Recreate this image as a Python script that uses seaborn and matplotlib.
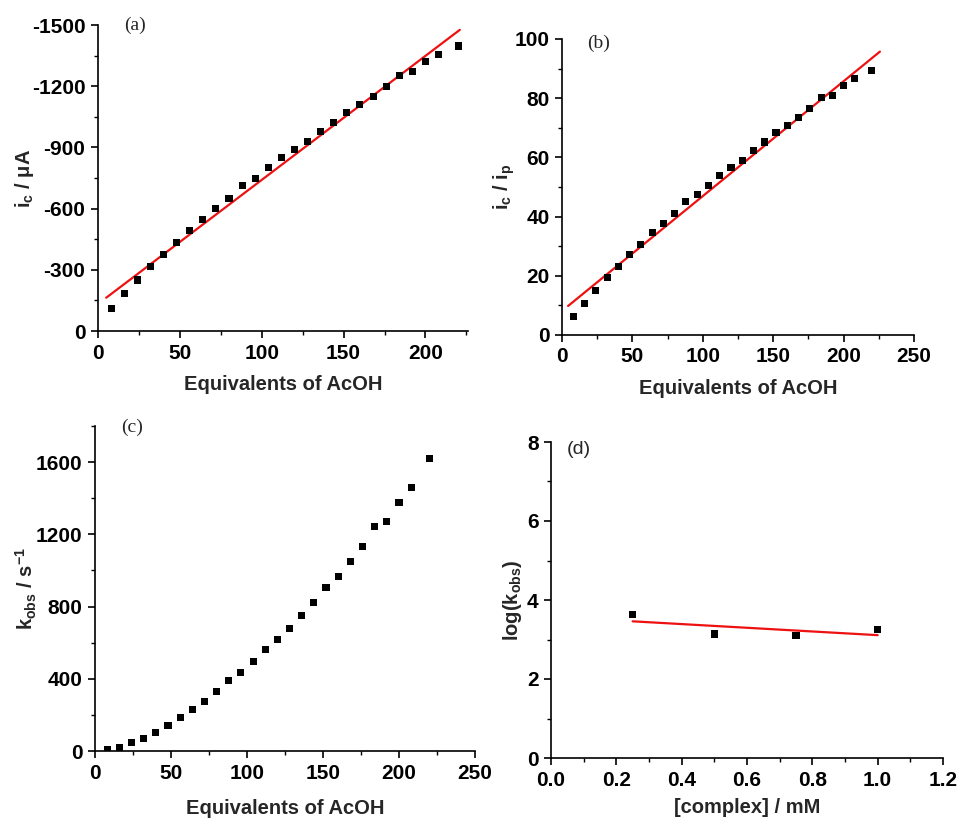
import numpy as np
import pandas as pd
import matplotlib
matplotlib.use("Agg")
import matplotlib.pyplot as plt
from matplotlib.ticker import MultipleLocator, FormatStrFormatter
import seaborn as sns

# ---- data ----
equiv = [8, 16, 24, 32, 40, 48, 56, 64, 72, 80, 88, 96, 104, 112, 120, 128,
         136, 144, 152, 160, 168, 176, 184, 192, 200, 208, 220]

# (a) catalytic current, uA
i_c = [-110, -185, -250, -315, -377, -434, -493, -548, -599, -651, -713, -749,
       -800, -852, -891, -929, -978, -1023, -1071, -1111, -1151, -1200, -1253,
       -1270, -1319, -1356, -1397]
fit_a_slope, fit_a_icpt = -6.08, -132.6
fit_a_range = [5, 221]

# (b) i_c / i_p
ratio = [6.1, 10.7, 15.1, 19.4, 23.2, 27.2, 30.7, 34.5, 37.7, 41.0, 45.0, 47.5,
         50.6, 54.0, 56.6, 59.1, 62.2, 65.2, 68.3, 70.7, 73.5, 76.4, 80.2, 80.9,
         84.2, 86.7, 89.3]
fit_b_slope, fit_b_icpt = 0.388, 8.13
fit_b_range = [4.3, 225.8]

# (c) k_obs, s^-1
k_obs = [7, 19, 45, 69, 104, 143, 186, 228, 275, 327, 393, 434, 496, 564, 620,
         676, 750, 822, 904, 969, 1047, 1134, 1245, 1269, 1377, 1457, 1620]

# (d) log(k_obs) vs complex concentration
conc = [0.25, 0.50, 0.75, 1.00]
log_k = [3.63, 3.14, 3.11, 3.25]
fit_d_slope, fit_d_icpt = -0.467, 3.577
fit_d_range = [0.25, 1.0]

# ---- style ----
sns.set_theme(style="ticks")
plt.rcParams.update({
    "font.family": ["Liberation Sans", "DejaVu Sans"],
    "font.weight": "bold",
    "axes.labelweight": "bold",
    "axes.unicode_minus": False,
    "mathtext.fontset": "custom",
    "mathtext.rm": "Liberation Sans:bold",
    "mathtext.it": "Liberation Sans:bold",
    "mathtext.bf": "Liberation Sans:bold",
    "axes.linewidth": 1.2,
    "axes.edgecolor": "black",
    "xtick.color": "black",
    "ytick.color": "black",
    "xtick.major.width": 1.2,
    "ytick.major.width": 1.2,
    "xtick.minor.width": 1.0,
    "ytick.minor.width": 1.0,
    "xtick.major.size": 5,
    "ytick.major.size": 5,
    "xtick.minor.size": 3,
    "ytick.minor.size": 3,
    "xtick.major.pad": 4,
    "ytick.major.pad": 4,
    "xtick.labelsize": 15,
    "ytick.labelsize": 15,
    "axes.labelsize": 14.5,
})

W, H = 960, 821
fig = plt.figure(figsize=(W / 100, H / 100), dpi=100)


def add_ax(left, top, right, bottom):
    return fig.add_axes([left / W, 1 - bottom / H, (right - left) / W, (bottom - top) / H])


ax_a = add_ax(98, 25, 468, 331)
ax_b = add_ax(562, 39, 914, 335)
ax_c = add_ax(95, 426, 475, 751)
ax_d = add_ax(551, 442, 943, 758)

mk = dict(marker="s", color="black", s=26, edgecolor="none", linewidth=0, zorder=3)
ln = dict(color="#ee1111", linewidth=1.6, zorder=2)


def fit_frame(rng, slope, icpt):
    xs = np.array(rng, dtype=float)
    return pd.DataFrame({"x": xs, "y": slope * xs + icpt})


# (a)
df_a = pd.DataFrame({"x": equiv, "y": i_c})
fa = fit_frame(fit_a_range, fit_a_slope, fit_a_icpt)
sns.lineplot(data=fa, x="x", y="y", ax=ax_a, **ln)
sns.scatterplot(data=df_a, x="x", y="y", ax=ax_a, **mk)
ax_a.set_xlim(0, 226)
ax_a.set_ylim(0, -1500)
ax_a.xaxis.set_major_locator(MultipleLocator(50))
ax_a.xaxis.set_minor_locator(MultipleLocator(25))
ax_a.yaxis.set_major_locator(MultipleLocator(300))
ax_a.yaxis.set_minor_locator(MultipleLocator(150))
ax_a.set_xlabel("Equivalents of AcOH", labelpad=9)
ax_a.set_ylabel(r"i$_\mathrm{c}$ / μA", labelpad=-3)

# (b)
df_b = pd.DataFrame({"x": equiv, "y": ratio})
fb = fit_frame(fit_b_range, fit_b_slope, fit_b_icpt)
sns.lineplot(data=fb, x="x", y="y", ax=ax_b, **ln)
sns.scatterplot(data=df_b, x="x", y="y", ax=ax_b, **mk)
ax_b.set_xlim(0, 250)
ax_b.set_ylim(0, 100)
ax_b.xaxis.set_major_locator(MultipleLocator(50))
ax_b.xaxis.set_minor_locator(MultipleLocator(25))
ax_b.yaxis.set_major_locator(MultipleLocator(20))
ax_b.yaxis.set_minor_locator(MultipleLocator(10))
ax_b.set_xlabel("Equivalents of AcOH", labelpad=9)
ax_b.set_ylabel(r"i$_\mathrm{c}$ / i$_\mathrm{p}$", labelpad=-2)

# (c)
df_c = pd.DataFrame({"x": equiv, "y": k_obs})
sns.scatterplot(data=df_c, x="x", y="y", ax=ax_c, **mk)
ax_c.set_xlim(0, 250)
ax_c.set_ylim(0, 1800)
ax_c.xaxis.set_major_locator(MultipleLocator(50))
ax_c.xaxis.set_minor_locator(MultipleLocator(25))
ax_c.yaxis.set_major_locator(MultipleLocator(400))
ax_c.yaxis.set_minor_locator(MultipleLocator(200))
ax_c.set_xlabel("Equivalents of AcOH", labelpad=12)
ax_c.set_ylabel(r"k$_\mathrm{obs}$ / s$^\mathrm{-1}$", labelpad=-2)

# (d)
df_d = pd.DataFrame({"x": conc, "y": log_k})
fd = fit_frame(fit_d_range, fit_d_slope, fit_d_icpt)
sns.lineplot(data=fd, x="x", y="y", ax=ax_d, **ln)
sns.scatterplot(data=df_d, x="x", y="y", ax=ax_d, **mk)
ax_d.set_xlim(0, 1.2)
ax_d.set_ylim(0, 8)
ax_d.xaxis.set_major_locator(MultipleLocator(0.2))
ax_d.xaxis.set_minor_locator(MultipleLocator(0.1))
ax_d.yaxis.set_major_locator(MultipleLocator(2))
ax_d.yaxis.set_minor_locator(MultipleLocator(1))
ax_d.xaxis.set_major_formatter(FormatStrFormatter("%.1f"))
ax_d.set_xlabel("[complex] / mM", labelpad=6)
ax_d.set_ylabel(r"log(k$_\mathrm{obs}$)", labelpad=2)

for ax in (ax_a, ax_b, ax_c, ax_d):
    sns.despine(ax=ax)
    ax.tick_params(which="both", direction="out")
    for lab in ax.get_xticklabels() + ax.get_yticklabels():
        lab.set_fontweight("bold")

serif = ["Liberation Serif", "DejaVu Serif"]
ax_a.text(0.07, 1.0, "(a)", transform=ax_a.transAxes, family=serif,
          fontweight="normal", fontsize=14, va="center", ha="left")
ax_b.text(0.07, 0.985, "(b)", transform=ax_b.transAxes, family=serif,
          fontweight="normal", fontsize=14, va="center", ha="left")
ax_c.text(0.07, 0.995, "(c)", transform=ax_c.transAxes, family=serif,
          fontweight="normal", fontsize=14, va="center", ha="left")
ax_d.text(0.04, 0.975, "(d)", transform=ax_d.transAxes,
          fontweight="normal", fontsize=14, va="center", ha="left")

fig.savefig("out.png", dpi=100, facecolor="white")
